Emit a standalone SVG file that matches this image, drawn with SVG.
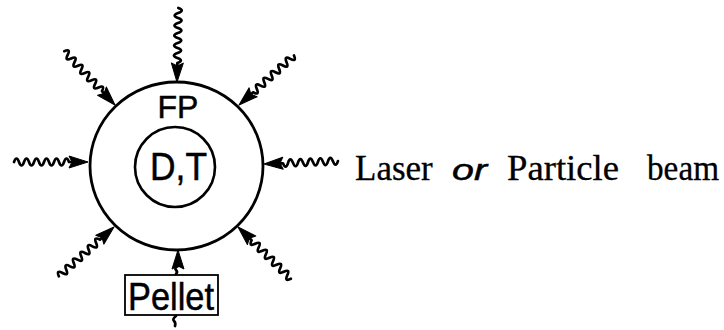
<svg xmlns="http://www.w3.org/2000/svg" xmlns:xlink="http://www.w3.org/1999/xlink" width="724" height="330" viewBox="0 0 724 330">
<style>
.ln{fill:none;stroke:#000;stroke-width:2.7;stroke-linejoin:round;stroke-linecap:round}
.hd{fill:#000;stroke:#000;stroke-width:1;stroke-linejoin:round}
.sans{font-family:"Liberation Sans",Arial,sans-serif;fill:#000;stroke:#000;stroke-width:0.5}
.serif{font-family:"Liberation Serif","Times New Roman",serif;fill:#000;stroke:#000;stroke-width:0.3}
</style>
<defs>
<g id="beam">
<path class="ln" d="M-74 0 q2.5 -7 5 0 t5 0 t5 0 t5 0 t5 0 t5 0 t5 0 t5 0 t5 0 t5 0 t5 0 L-10 0"/>
<polygon class="hd" points="0,0 -19,-6 -16,0 -19,6"/>
</g>
</defs>
<rect width="724" height="330" fill="#fff"/>
<g id="target">
<ellipse cx="176.5" cy="166" rx="86.5" ry="84" fill="none" stroke="#000" stroke-width="2.8"/>
<text class="sans" x="178" y="118" font-size="32" text-anchor="middle">FP</text>
</g>
<g id="fuel">
<circle cx="175" cy="167" r="40" fill="none" stroke="#000" stroke-width="2.6"/>
<text class="sans" x="150" y="180" font-size="38" textLength="57" lengthAdjust="spacingAndGlyphs">D,T</text>
</g>
<g id="pellet">
<rect x="125" y="275" width="93" height="40" fill="none" stroke="#000" stroke-width="1.8"/>
<text class="sans" x="128" y="310" font-size="38" textLength="86" lengthAdjust="spacingAndGlyphs">Pellet</text>
</g>
<g id="connectors">
<use xlink:href="#beam" transform="translate(177,82) rotate(91)"/>
<use xlink:href="#beam" transform="translate(115,105) rotate(46.7)"/>
<use xlink:href="#beam" transform="translate(239,105) rotate(138)"/>
<use xlink:href="#beam" transform="translate(88,162) rotate(0)"/>
<use xlink:href="#beam" transform="translate(264,164) rotate(177.7)"/>
<use xlink:href="#beam" transform="translate(114,227) rotate(-41.8)"/>
<use xlink:href="#beam" transform="translate(238,227) rotate(-135.6)"/>
<g id="pellet-arrow">
<path class="ln" d="M178 262 L178 266 q-4 2 -2 4 t0 4"/>
<polygon class="hd" points="178,250 172,269 178,266 184,269"/>
<path class="ln" d="M176 316 q-4 3 -2 5 t1 5"/>
</g>
</g>
<g id="label">
<text class="serif" y="180" font-size="35"><tspan x="355">Laser</tspan></text>
<text class="sans" x="452" y="180" font-size="30" font-style="italic" textLength="35" lengthAdjust="spacingAndGlyphs">or</text>
<text class="serif" y="180" font-size="35"><tspan x="507" textLength="112" lengthAdjust="spacingAndGlyphs">Particle</tspan><tspan x="647" textLength="72" lengthAdjust="spacingAndGlyphs">beam</tspan></text>
</g>
</svg>
